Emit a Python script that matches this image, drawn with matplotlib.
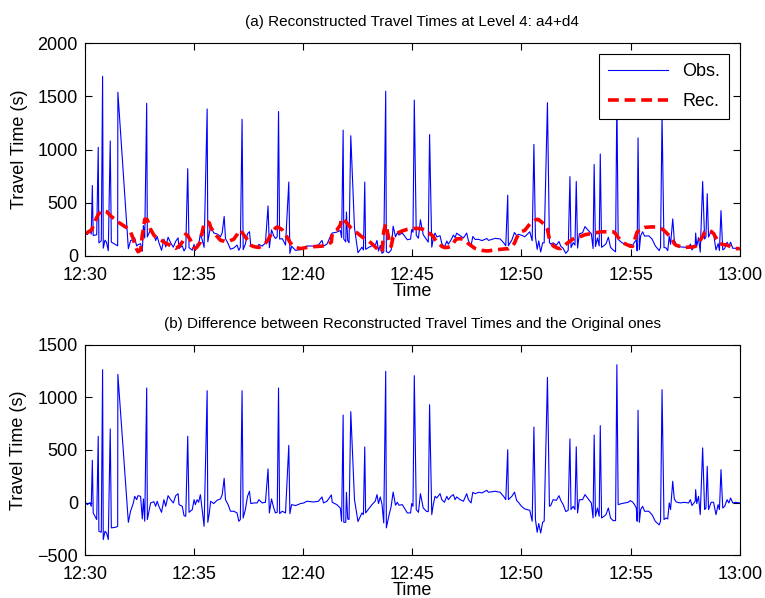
import numpy as np
from matplotlib import pyplot as plt

# minutes after 12:30 for each observed vehicle
t = [0.03, 0.11, 0.23, 0.29, 0.34, 0.38, 0.54, 0.61, 0.64, 0.75, 0.81, 0.84, 0.92, 0.99, 1.07, 1.16, 1.21, 1.41, 1.50, 1.51,
     1.99, 2.09, 2.22, 2.28, 2.37, 2.43, 2.55, 2.63, 2.68, 2.74, 2.83, 2.86, 3.01, 3.16, 3.24, 3.31, 3.39, 3.51, 3.62, 3.70,
     3.81, 3.93, 4.05, 4.16, 4.27, 4.31, 4.46, 4.54, 4.62, 4.71, 4.77, 4.92, 5.00,
     5.06, 5.14, 5.21, 5.29, 5.37, 5.46, 5.60, 5.63, 5.70, 5.76, 5.90, 6.05, 6.21, 6.29, 6.38, 6.44, 6.56, 6.67, 6.82, 6.97,
     7.05, 7.12, 7.20, 7.25, 7.35, 7.45, 7.54, 7.60, 7.74, 7.89, 7.97, 8.12, 8.27, 8.39, 8.45, 8.55, 8.65, 8.73, 8.81, 8.87,
     8.92, 9.04, 9.19, 9.34, 9.39, 9.47, 9.65, 9.88, 10.03,
     10.17, 10.47, 10.70, 10.86, 10.93, 11.09, 11.29, 11.33, 11.54, 11.70, 11.76, 11.83, 11.86, 11.95, 11.98, 12.04, 12.10,
     12.18, 12.35, 12.51, 12.69, 12.76, 12.82, 12.86, 13.00, 13.15, 13.30, 13.38, 13.45, 13.53, 13.61, 13.69, 13.78, 13.81,
     13.92, 14.03, 14.12, 14.23, 14.31, 14.39, 14.54, 14.77, 14.92,
     14.97, 15.03, 15.09, 15.18, 15.28, 15.37, 15.50, 15.66, 15.73, 15.79, 15.89, 15.96, 16.04, 16.12, 16.27, 16.35, 16.47,
     16.58, 16.65, 16.77, 16.88, 16.96, 17.03, 17.19, 17.34, 17.49, 17.57, 17.69, 17.77, 17.88, 18.04, 18.19, 18.41, 18.49,
     18.79, 19.02, 19.18, 19.28, 19.37, 19.40, 19.56, 19.68, 19.78, 19.86,
     20.00, 20.15, 20.38, 20.49, 20.57, 20.64, 20.72, 20.79, 20.88, 20.97, 21.04, 21.19, 21.28, 21.34, 21.45, 21.60, 21.72,
     21.80, 21.91, 22.03, 22.14, 22.22, 22.27, 22.37, 22.45, 22.51, 22.57, 22.65, 22.80, 22.91, 23.06, 23.20, 23.28, 23.33,
     23.39, 23.48, 23.56, 23.61, 23.67, 23.78, 23.87, 23.98, 24.08, 24.20, 24.31, 24.37, 24.43, 24.59, 24.74, 24.89,
     24.98, 25.09, 25.18, 25.26, 25.30, 25.34, 25.40, 25.46, 25.55, 25.64, 25.83, 25.98, 26.13, 26.31, 26.37, 26.44, 26.53,
     26.62, 26.70, 26.77, 26.83, 26.93, 27.00, 27.09, 27.28, 27.43, 27.66, 27.74, 27.81, 27.96, 27.98, 28.03, 28.11, 28.19,
     28.30, 28.39, 28.45, 28.51, 28.57, 28.69, 28.80, 28.91, 29.01, 29.07, 29.14, 29.22, 29.31, 29.42, 29.50, 29.58, 29.68,
     29.80, 30.00]

# observed travel times (s)
obs = [213, 201, 235, 205, 662, 192, 199, 1020, 123, 143, 1688, 73, 148, 128, 49, 1080, 130, 106, 95, 1538,
       68, 143, 157, 170, 93, 106, 115, 45, 285, 168, 1434, 179, 247, 204, 145, 183, 125, 53, 158, 85,
       176, 123, 82, 138, 170, 71, 95, 47, 75, 820, 78, 54, 108,
       51, 113, 108, 206, 154, 81, 1381, 133, 212, 283, 216, 207, 182, 218, 371, 163, 116, 63, 75, 102,
       53, 82, 1283, 59, 112, 210, 228, 91, 85, 79, 108, 92, 123, 470, 77, 245, 189, 164, 180, 1357,
       158, 163, 102, 694, 25, 91, 52, 60, 72,
       93, 93, 103, 146, 92, 112, 203, 215, 224, 239, 173, 1182, 158, 133, 413, 145, 124,
       1129, 263, 30, 82, 56, 694, 62, 80, 96, 98, 146, 46, 99, 25, 37, 1547, 40,
       30, 55, 280, 180, 218, 197, 216, 152, 158,
       248, 223, 1464, 193, 166, 340, 199, 150, 130, 1140, 82, 161, 215, 179, 190, 118, 82,
       140, 110, 150, 196, 173, 214, 190, 169, 215, 143, 95, 183, 155, 156, 144, 164, 146,
       165, 160, 125, 95, 571, 96, 150, 220, 190, 203,
       195, 180, 227, 143, 1048, 177, 62, 141, 37, 123, 123, 1440, 125, 112, 123, 100, 136,
       92, 71, 25, 52, 745, 79, 125, 102, 700, 74, 208, 218, 276, 240, 209, 69, 859,
       88, 169, 94, 958, 81, 97, 113, 176, 81, 56, 39, 1500, 156, 126, 112, 103,
       111, 96, 131, 149, 48, 1109, 58, 189, 227, 186, 189, 159, 95, 50, 81, 1325, 79,
       76, 50, 187, 109, 348, 150, 106, 85, 83, 79, 111, 56, 103, 215, 91, 172, 36,
       700, 159, 181, 585, 177, 233, 213, 56, 116, 51, 426, 57, 70, 129, 92, 129, 72,
       72, 66]

# reconstruction a4+d4 (s)
rec = [213, 220, 235, 240, 260, 290, 360, 390, 395, 425, 425, 424, 420, 416, 400, 380, 370, 340, 320, 320,
       255, 225, 160, 110, 65, 40, 55, 200, 250, 345, 345, 340, 250, 195, 180, 170, 160, 145, 130, 120,
       110, 95, 85, 72, 85, 90, 130, 170, 205, 190, 170, 120, 80,
       70, 85, 105, 130, 220, 306, 318, 320, 310, 270, 225, 185, 147, 142, 140, 135, 135, 145, 157, 200,
       230, 243, 220, 205, 178, 150, 120, 100, 88, 82, 80, 95, 120, 150, 175, 210, 240, 262, 272, 268,
       262, 245, 200, 150, 130, 110, 80, 69, 75,
       80, 87, 90, 92, 95, 99, 130, 212, 243, 290, 350, 350, 345, 320, 315, 300, 285,
       265, 235, 210, 180, 170, 165, 160, 140, 115, 85, 70, 55, 45, 40, 230, 300, 280,
       160, 90, 180, 205, 215, 222, 235, 250, 256,
       257, 258, 258, 259, 258, 255, 250, 235, 215, 210, 196, 180, 155, 135, 105, 90, 79,
       80, 82, 90, 120, 145, 160, 162, 156, 130, 115, 98, 85, 70, 58, 52, 47, 48,
       57, 62, 65, 67, 68, 68, 90, 120, 170, 200,
       230, 240, 300, 320, 330, 338, 344, 340, 325, 310, 300, 250, 160, 140, 95, 78, 70,
       70, 90, 110, 125, 140, 145, 160, 168, 170, 172, 180, 190, 200, 205, 212, 215, 217,
       218, 220, 224, 227, 227, 227, 227, 227, 227, 227, 210, 190, 175, 135, 115, 100,
       92, 90, 150, 200, 225, 232, 245, 255, 262, 268, 271, 273, 272, 262, 258, 252, 240,
       222, 205, 190, 175, 145, 115, 100, 88, 80, 82, 83, 84, 90, 92, 100, 112, 150,
       180, 225, 232, 240, 243, 230, 210, 170, 135, 117, 113, 108, 105, 101, 95, 85, 75,
       69, 69]

tick_pos = [0, 5, 10, 15, 20, 25, 30]
tick_labels = ['12:30', '12:35', '12:40', '12:45', '12:50', '12:55', '13:00']

plt.rcParams['font.family'] = ['Liberation Sans', 'DejaVu Sans']

t = np.array(t)
obs = np.array(obs)
rec = np.array(rec)
diff = obs - rec

fig = plt.figure(figsize=(7.65, 5.98), dpi=100)
ax1 = fig.add_axes([0.111, 0.572, 0.856, 0.356])
ax2 = fig.add_axes([0.111, 0.0715, 0.856, 0.352])

ax1.plot(t, obs, color='#0000ff', lw=0.8, label='Obs.')
ax1.plot(t, rec, color='#ff0000', lw=2.6, ls=(0, (3, 1.6)), label='Rec.')
ax1.set_ylim(0, 2000)
ax1.set_yticks([0, 500, 1000, 1500, 2000])
ax1.set_title('(a) Reconstructed Travel Times at Level 4: a4+d4', fontsize=11, pad=12)
ax1.set_ylabel('Travel Time (s)', fontsize=13, labelpad=7)
leg = ax1.legend(loc='upper right', fontsize=13, handlelength=3.3, fancybox=False,
                 edgecolor='black', framealpha=1, borderaxespad=0.6, labelspacing=0.75,
                 borderpad=0.5)
leg.get_frame().set_linewidth(0.8)

ax2.plot(t, diff, color='#0000ff', lw=0.8)
ax2.set_ylim(-500, 1500)
ax2.set_yticks([-500, 0, 500, 1000, 1500])
ax2.set_title('(b) Difference between Reconstructed Travel Times and the Original ones', fontsize=11, pad=12)
ax2.set_ylabel('Travel Time (s)', fontsize=13, labelpad=7)

for ax in (ax1, ax2):
    ax.set_xlim(0, 30)
    ax.set_xticks(tick_pos)
    ax.set_xticklabels(tick_labels)
    ax.set_xlabel('Time', fontsize=13, labelpad=-1)
    ax.tick_params(direction='in', length=5, width=0.8, top=True, right=True, labelsize=13)
    ax.tick_params(axis='x', pad=8)
    ax.tick_params(axis='y', pad=5)
    for s in ax.spines.values():
        s.set_linewidth(0.8)

fig.savefig('out.png', dpi=100)
